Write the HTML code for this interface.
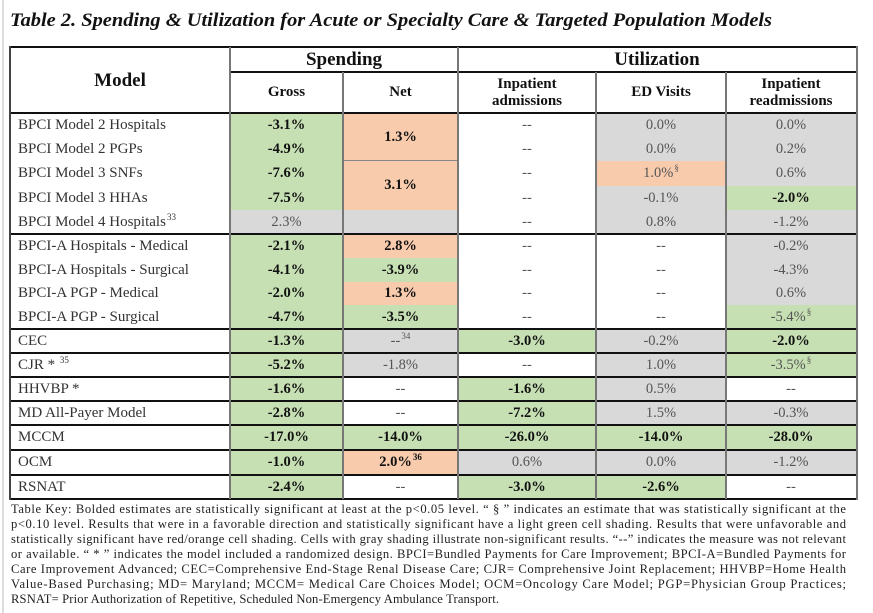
<!DOCTYPE html>
<html><head><meta charset="utf-8"><style>
body{margin:0;width:873px;height:613px;background:#fff;position:relative;overflow:hidden;font-family:"Liberation Serif",serif;}
.c{position:absolute;display:flex;align-items:center;justify-content:center;font-size:14.5px;color:#555;box-sizing:border-box;}
.c.b{font-weight:bold;color:#111;}
.c.l{justify-content:flex-start;padding-left:8px;color:#333;font-size:15px;}
.h{position:absolute;display:flex;align-items:center;justify-content:center;text-align:center;font-weight:bold;color:#111;line-height:17px;}
.ln{position:absolute;}
sup{font-size:9px;vertical-align:6px;line-height:0;margin-left:1px;}
</style></head><body>
<div class="ln" style="left:2px;top:0;width:2px;height:613px;background:#ddd"></div>
<svg width="873" height="613" style="position:absolute;left:0;top:0">
<text x="10" y="26" textLength="762" lengthAdjust="spacingAndGlyphs" font-family="Liberation Serif" font-style="italic" font-weight="bold" font-size="19" fill="#111">Table 2. Spending &amp; Utilization for Acute or Specialty Care &amp; Targeted Population Models</text>
<g font-family="Liberation Serif" font-size="12.6" fill="#222">
<text x="11" y="513" textLength="835" lengthAdjust="spacing">Table Key: Bolded estimates are statistically significant at least at the p&lt;0.05 level. “ § ” indicates an estimate that was statistically significant at the</text>
<text x="11" y="528" textLength="835" lengthAdjust="spacing">p&lt;0.10 level. Results that were in a favorable direction and statistically significant have a light green cell shading. Results that were unfavorable and</text>
<text x="11" y="543" textLength="835" lengthAdjust="spacing">statistically significant have red/orange cell shading. Cells with gray shading illustrate non-significant results. “--” indicates the measure was not relevant</text>
<text x="11" y="558" textLength="835" lengthAdjust="spacing">or available. “ * ” indicates the model included a randomized design. BPCI=Bundled Payments for Care Improvement; BPCI-A=Bundled Payments for</text>
<text x="11" y="573" textLength="835" lengthAdjust="spacing">Care Improvement Advanced; CEC=Comprehensive End-Stage Renal Disease Care; CJR= Comprehensive Joint Replacement; HHVBP=Home Health</text>
<text x="11" y="588" textLength="835" lengthAdjust="spacing">Value-Based Purchasing; MD= Maryland; MCCM= Medical Care Choices Model; OCM=Oncology Care Model; PGP=Physician Group Practices;</text>
<text x="11" y="603" textLength="488" lengthAdjust="spacing">RSNAT= Prior Authorization of Repetitive, Scheduled Non-Emergency Ambulance Transport.</text>
</g>
</svg>
<div id="tbl"></div>
<script>
const colX=[10,230,343,458,596,726,856];
const rowY=[113,137,161,186,210,234,258,282,305,329,353,377,401,425,450,475,499];
const labels=["BPCI Model 2 Hospitals","BPCI Model 2 PGPs","BPCI Model 3 SNFs","BPCI Model 3 HHAs","BPCI Model 4 Hospitals<sup>33</sup>","BPCI-A Hospitals - Medical","BPCI-A Hospitals - Surgical","BPCI-A PGP - Medical","BPCI-A PGP - Surgical","CEC","CJR * <sup>35</sup>","HHVBP *","MD All-Payer Model","MCCM","OCM","RSNAT"];
// value|fill(g=green,o=orange,x=gray,w=white)|bold ; "skip" = merged
const gross=["-3.1%|g|1","-4.9%|g|1","-7.6%|g|1","-7.5%|g|1","2.3%|x|0","-2.1%|g|1","-4.1%|g|1","-2.0%|g|1","-4.7%|g|1","-1.3%|g|1","-5.2%|g|1","-1.6%|g|1","-2.8%|g|1","-17.0%|g|1","-1.0%|g|1","-2.4%|g|1"];
const net=["1.3%|o|1|2","skip","3.1%|o|1|2","skip","|x|0","2.8%|o|1","-3.9%|g|1","1.3%|o|1","-3.5%|g|1","--<sup>34</sup>|x|0","-1.8%|x|0","--|w|0","--|w|0","-14.0%|g|1","2.0%<sup>36</sup>|o|1","--|w|0"];
const inpt=["--|w|0","--|w|0","--|w|0","--|w|0","--|w|0","--|w|0","--|w|0","--|w|0","--|w|0","-3.0%|g|1","--|w|0","-1.6%|g|1","-7.2%|g|1","-26.0%|g|1","0.6%|x|0","-3.0%|g|1"];
const ed=["0.0%|x|0","0.0%|x|0","1.0%<sup>§</sup>|o|0","-0.1%|x|0","0.8%|x|0","--|w|0","--|w|0","--|w|0","--|w|0","-0.2%|x|0","1.0%|x|0","0.5%|x|0","1.5%|x|0","-14.0%|g|1","0.0%|x|0","-2.6%|g|1"];
const readm=["0.0%|x|0","0.2%|x|0","0.6%|x|0","-2.0%|g|1","-1.2%|x|0","-0.2%|x|0","-4.3%|x|0","0.6%|x|0","-5.4%<sup>§</sup>|g|0","-2.0%|g|1","-3.5%<sup>§</sup>|g|0","--|w|0","-0.3%|x|0","-28.0%|g|1","-1.2%|x|0","--|w|0"];
const fills={g:"#c6e0b4",o:"#f8cbad",x:"#d9d9d9",w:"#fff"};
const colNames=["gross","net","inpatient-admissions","ed-visits","readmissions"];
const tbl=document.getElementById('tbl');
function mk(cls,x,y,w,h,html,bg){const d=document.createElement('div');d.className=cls;d.style.left=x+'px';d.style.top=y+'px';d.style.width=w+'px';d.style.height=h+'px';if(bg)d.style.background=bg;if(html)d.innerHTML='<span>'+html+'</span>';tbl.appendChild(d);return d;}
labels.forEach((lab,r)=>{
  const d=mk('c l',colX[0],rowY[r],colX[1]-colX[0],rowY[r+1]-rowY[r],lab);
  
  
  [gross,net,inpt,ed,readm].forEach((arr,ci)=>{
    const v=arr[r]; if(v==='skip')return;
    const p=v.split('|'); const span=p[3]?+p[3]:1;
    const c=mk('c'+(p[2]==='1'?' b':''),colX[ci+1],rowY[r],colX[ci+2]-colX[ci+1],rowY[r+span]-rowY[r],p[0],fills[p[1]]);
    
    
  });
});
function hd(name,x,y,w,h,html,fs){const d=mk('h',x,y,w,h,html);d.style.fontSize=fs+'px';
  
  }
hd('model-header',10,47,220,66,'Model',19);
hd('spending-header',230,47,228,25,'Spending',19);
hd('utilization-header',458,47,398,25,'Utilization',19);
hd('gross-header',230,72,113,41,'Gross',15);
hd('net-header',343,72,115,41,'Net',15);
hd('inpatient-admissions-header',458,72,138,41,'Inpatient<br>admissions',15);
hd('ed-visits-header',596,72,130,41,'ED Visits',15);
hd('readmissions-header',726,72,130,41,'Inpatient<br>readmissions',15);
function line(name,x,y,w,h,c){const d=mk('ln',x,y,w,h,'',c);
  
  }
[47,113,234,329,353,377,401,425,450,475,499].forEach(y=>line('row-rule',10,y-1,847,1.5,'#111'));
line('spending-underline',230,71,627,1.5,'#111');
line('net-merge-rule',343,160,115,1,'#888');
line('left-border',9,46,2,454,'#444');
line('right-border',856,46,2,454,'#777');
[230,343,458,596,726].forEach(x=>line('column-rule',x-1,x===230||x===458?47:72,2,x===230||x===458?452:427,'#777'));
</script>
</body></html>
